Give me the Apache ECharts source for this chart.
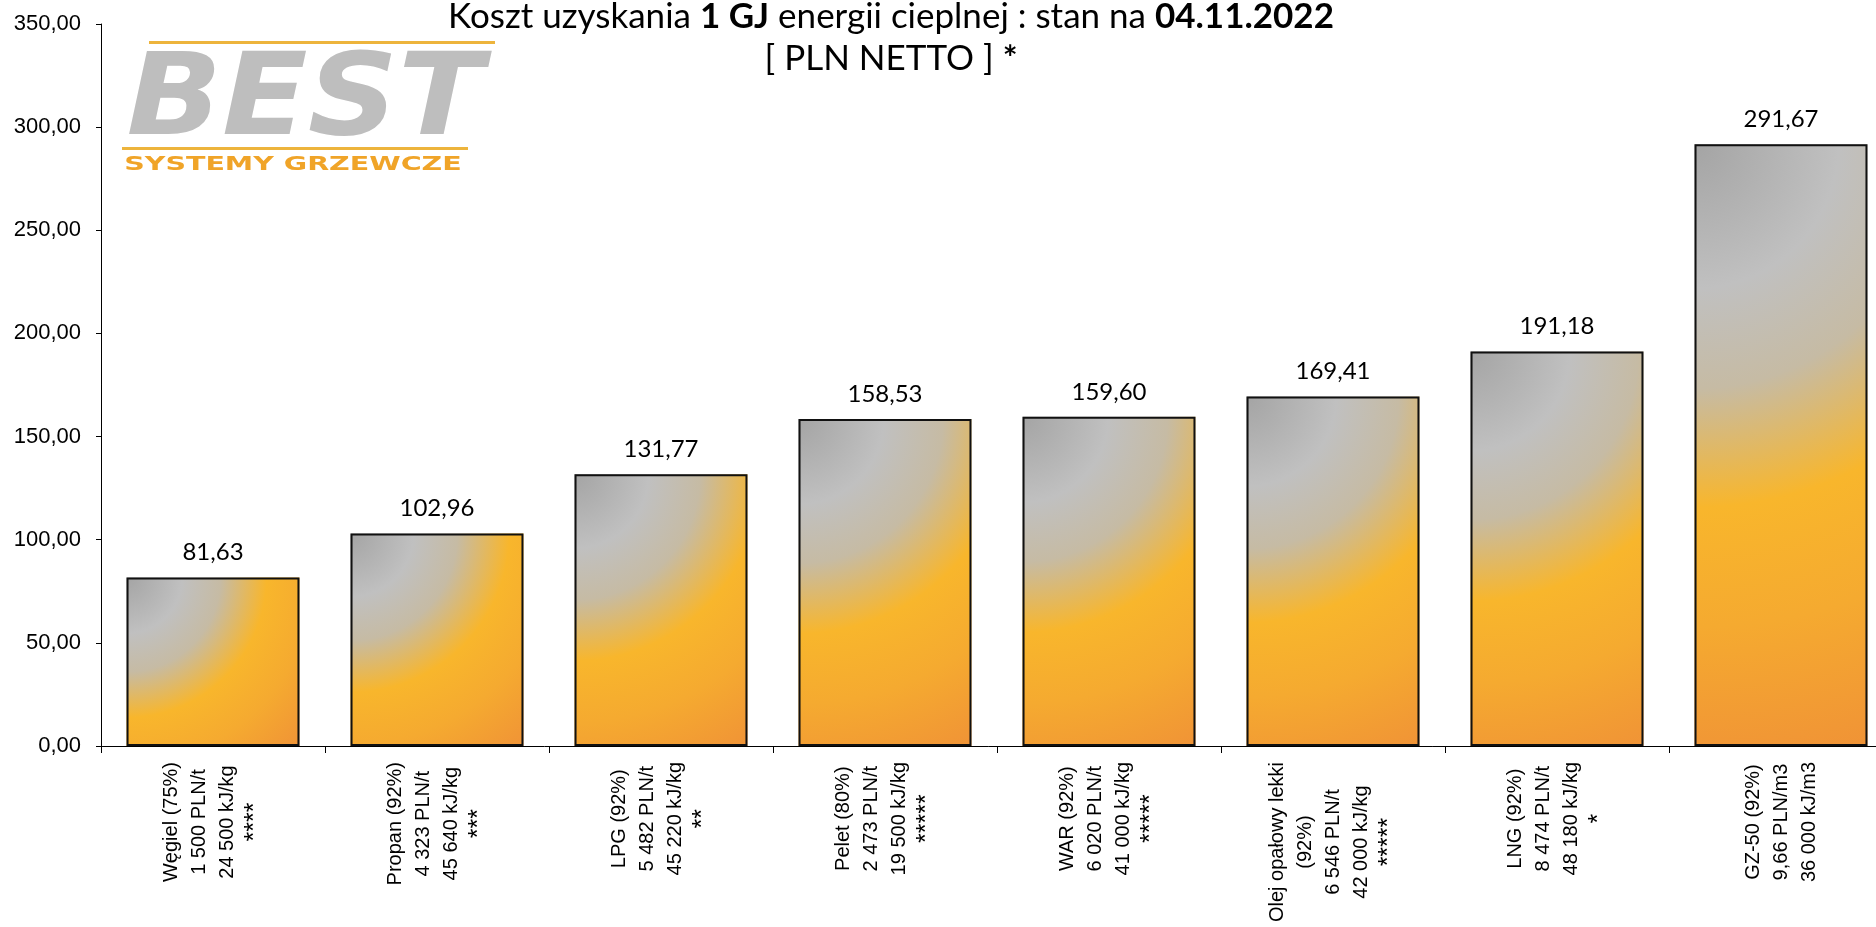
<!DOCTYPE html>
<html>
<head>
<meta charset="utf-8">
<script src="https://cdn.jsdelivr.net/npm/echarts@6/dist/echarts.min.js"></script>
<style>
  html, body { margin: 0; padding: 0; background: #fff; }
  #chart { width: 1876px; height: 927px; }
</style>
</head>
<body>
<div id="chart"></div>
<script>
const categories = [
  'Węgiel (75%)\n1 500 PLN/t\n24 500 kJ/kg\n****',
  'Propan (92%)\n4 323 PLN/t\n45 640 kJ/kg\n***',
  'LPG (92%)\n5 482 PLN/t\n45 220 kJ/kg\n**',
  'Pelet (80%)\n2 473 PLN/t\n19 500 kJ/kg\n*****',
  'WAR (92%)\n6 020 PLN/t\n41 000 kJ/kg\n*****',
  'Olej opałowy lekki\n(92%)\n6 546 PLN/t\n42 000 kJ/kg\n*****',
  'LNG (92%)\n8 474 PLN/t\n48 180 kJ/kg\n*',
  'GZ-50 (92%)\n9,66 PLN/m3\n36 000 kJ/m3'
];
const costs = [81.63, 102.96, 131.77, 158.53, 159.60, 169.41, 191.18, 291.67];

const gap = 0.228;
// preset gradient: from top-left corner, gray -> light gray -> gold -> orange
const stops = [
  { offset: 0, color: '#A4A4A4' },
  { offset: 0.23, color: '#C0C0C0' },
  { offset: 0.39, color: '#C6BBA4' },
  { offset: 0.58, color: '#F8B62C' },
  { offset: 0.77, color: '#F5AA30' },
  { offset: 1, color: '#F09336' }
];

const fmt = (v) => v.toFixed(2).replace('.', ',');

const chart = echarts.init(document.getElementById('chart'));
chart.setOption({
  backgroundColor: '#fff',
  animation: false,
  title: {
    left: 891,
    top: -4,
    textAlign: 'center',
    padding: 0,
    text: '{n|Koszt uzyskania }{b|1 GJ}{n| energii cieplnej : stan na }{b|04.11.2022}\n{n|[ PLN NETTO ] }{b|*}',
    textStyle: {
      fontWeight: 'normal',
      rich: {
        n: { fontFamily: 'Lato', fontSize: 35, fontWeight: 'normal', color: '#000', lineHeight: 41.5 },
        b: { fontFamily: 'Lato', fontSize: 35, fontWeight: 'bold', color: '#000', lineHeight: 41.5 }
      }
    }
  },
  grid: {
    left: 101,
    right: -17,
    top: 24,
    bottom: 181,
    containLabel: false,
    outerBoundsMode: 'none'
  },
  xAxis: {
    type: 'category',
    data: categories,
    boundaryGap: true,
    axisLine: { lineStyle: { color: '#000', width: 1 } },
    axisTick: { show: true, length: 7, alignWithLabel: false, interval: 0, lineStyle: { color: '#000' } },
    splitLine: { show: false },
    axisLabel: {
      interval: 0,
      rotate: 90,
      margin: 16,
      color: '#000',
      fontFamily: 'Liberation Sans',
      fontSize: 20,
      formatter: (val) => val.split('\n')
        .map((s) => (/^\*+$/.test(s) ? '{s|' : '{c|') + s + '}')
        .join('\n'),
      rich: {
        c: { align: 'center', fontFamily: 'Liberation Sans', fontSize: 20, lineHeight: 28, color: '#000' },
        s: { align: 'center', fontFamily: 'Liberation Sans', fontSize: 25, lineHeight: 28, color: '#000' }
      }
    }
  },
  yAxis: {
    type: 'value',
    min: 0,
    max: 350,
    interval: 50,
    axisLine: { show: true, lineStyle: { color: '#000', width: 1 } },
    axisTick: { show: true, length: 5, lineStyle: { color: '#000' } },
    splitLine: { show: false },
    axisLabel: {
      margin: 20,
      color: '#000',
      fontFamily: 'Liberation Sans',
      fontSize: 22,
      formatter: (v) => fmt(v)
    }
  },
  series: [
    {
      type: 'custom',
      z: 1,
      silent: true,
      data: costs.map((v, i) => [i, v]),
      encode: { x: 0, y: 1 },
      renderItem: (params, api) => {
        const base = api.coord([api.value(0), 0]);
        const top = api.coord([api.value(0), api.value(1)]);
        const bw = api.size([1, 0])[0] * (1 - gap);
        const x = top[0] - bw / 2;
        const y = top[1];
        const h = base[1] - top[1];
        const r = Math.sqrt(bw * bw + h * h);
        return {
          type: 'rect',
          shape: { x: x, y: y, width: bw, height: h },
          style: {
            fill: { type: 'radial', x: x, y: y, r: r, colorStops: stops, global: true }
          }
        };
      }
    },
    {
      type: 'bar',
      z: 2,
      data: costs,
      barCategoryGap: (gap * 100) + '%',
      itemStyle: { color: 'rgba(0,0,0,0)', borderColor: '#111', borderWidth: 2 },
      label: {
        show: true,
        position: 'top',
        distance: 13,
        color: '#000',
        fontFamily: 'Lato',
        fontSize: 24,
        lineHeight: 24,
        formatter: (p) => fmt(p.value)
      }
    }
  ],
  graphic: [
    { type: 'rect', z: 10, shape: { x: 149, y: 41, width: 346, height: 3 }, style: { fill: '#EDB43C' } },
    {
      type: 'text', z: 10, x: 305, y: 104, scaleX: 1.1,
      style: {
        text: 'BEST', font: 'italic 900 114px "DejaVu Sans"',
        align: 'center', verticalAlign: 'middle',
        fill: '#BEBEBE', stroke: '#fff', lineWidth: 1.5
      }
    },
    { type: 'rect', z: 10, shape: { x: 122, y: 147, width: 346, height: 3 }, style: { fill: '#EDB43C' } },
    {
      type: 'text', z: 10, x: 293, y: 165, scaleX: 1.5,
      style: {
        text: 'SYSTEMY GRZEWCZE', font: 'bold 19px "DejaVu Sans"',
        align: 'center', verticalAlign: 'middle',
        fill: '#F0A428'
      }
    }
  ]
});
</script>
</body>
</html>
